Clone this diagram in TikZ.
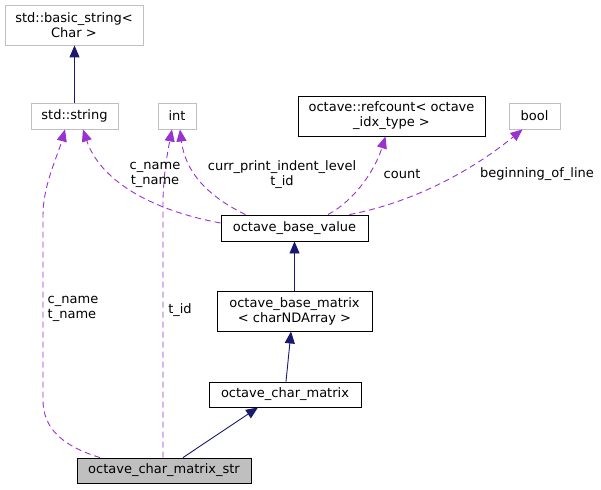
\documentclass[tikz,border=0pt]{standalone}
\usepackage{fontspec}
\setmainfont{DejaVu Sans}
\usetikzlibrary{arrows.meta}
\definecolor{navyc}{HTML}{191970}
\definecolor{purp}{HTML}{9A32CD}
\definecolor{grayb}{HTML}{BFBFBF}
\definecolor{darkb}{HTML}{404040}
\begin{document}
\begin{tikzpicture}[x=1pt,y=-1pt,
  font=\fontsize{13}{15}\selectfont,
  box/.style={draw=grayb,line width=0.9pt,fill=white,inner sep=0pt,align=center},
  dbox/.style={draw=black,line width=0.9pt,fill=white,inner sep=0pt,align=center},
  inh/.style={draw=navyc,line width=0.9pt,-{Triangle[length=12pt,width=10pt]}},
  mem/.style={draw=purp,line width=0.9pt,dash pattern=on 6pt off 4pt,-{Triangle[length=12pt,width=10pt,fill=purp]}},
  lbl/.style={inner sep=0pt,align=center}]
\useasboundingbox (0,0) rectangle (601,489);
\fill[white] (0,0) rectangle (601,489);
% nodes
\node[box,minimum width=138pt,minimum height=40pt] (bs) at (74,25) {std::basic\_string<\\Char >};
\node[box,minimum width=87pt,minimum height=26pt] (str) at (74.5,116) {std::string};
\node[box,minimum width=38pt,minimum height=26pt] (int) at (177,116) {int};
\node[dbox,minimum width=187pt,minimum height=40pt] (rc) at (391.5,116) {octave::refcount< octave\\\_idx\_type >};
\node[box,minimum width=51pt,minimum height=26pt] (bool) at (534.5,116) {bool};
\node[dbox,minimum width=147pt,minimum height=26pt] (bv) at (294.5,228) {octave\_base\_value};
\node[dbox,minimum width=155pt,minimum height=40pt] (bm) at (294.5,311) {octave\_base\_matrix\\< charNDArray >};
\node[dbox,minimum width=152pt,minimum height=25pt] (cm) at (285,394.5) {octave\_char\_matrix};
\node[draw=black,line width=0.9pt,fill=grayb,inner sep=0pt,minimum width=174pt,minimum height=25pt] (cms) at (164,470.5) {octave\_char\_matrix\_str};
% inheritance
\draw[inh] (str.north) -- (bs.south -| str.north);
\draw[inh] (bm.north) -- (bv.south);
\draw[inh] ([xshift=1pt]cm.north) -- ([xshift=-3.5pt]bm.south);
\draw[inh] ([xshift=19pt]cms.north) -- ([xshift=-27pt]cm.south);
% members
\draw[mem] ([xshift=-64pt]cms.north) .. controls (62,446) and (43,428) .. (43,400) -- (43,215) .. controls (43,185) and (58,155) .. ([xshift=-9.5pt]str.south);
\draw[mem] ([xshift=-1pt]cms.north) -- (163,205) .. controls (163,175) and (168,150) .. ([xshift=-5pt]int.south);
\draw[mem] ([yshift=5pt]bv.west) .. controls (150,210) and (100,180) .. ([xshift=8.5pt]str.south);
\draw[mem] ([xshift=-49pt]bv.north) .. controls (205,195) and (185,170) .. ([xshift=3pt]int.south);
\draw[mem] ([xshift=33.5pt]bv.north) .. controls (355,200) and (375,170) .. ([xshift=-6pt]rc.south);
\draw[mem] ([xshift=55pt]bv.north) .. controls (400,205) and (460,180) .. ([xshift=-12pt]bool.south);
% labels
\node[lbl,align=left] (l1) at (73,309) {c\_name\\t\_name};
\node[lbl] (l2) at (180,310) {t\_id};
\node[lbl] (l3) at (155,175) {c\_name\\t\_name};
\node[lbl] (l4) at (282,175) {curr\_print\_indent\_level\\t\_id};
\node[lbl] (l5) at (402,174) {count};
\node[lbl] (l6) at (537,174) {beginning\_of\_line};
\end{tikzpicture}
\end{document}
